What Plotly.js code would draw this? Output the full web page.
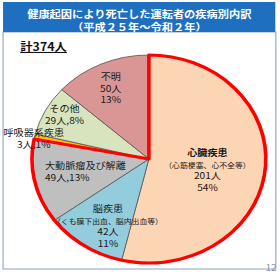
<!DOCTYPE html>
<html><head><meta charset="utf-8">
<script src="https://cdn.plot.ly/plotly-3.0.1.min.js"></script>
<style>
html,body{margin:0;padding:0;background:#fff;overflow:hidden;}
#wrap{width:280px;height:275px;overflow:hidden;position:relative;}
#plot{width:249px;height:275px;transform:scaleX(1.1245);transform-origin:0 0;}
</style></head><body><div id="wrap"><div id="plot"></div></div>
<script>
// ---- data ----
const categories = ['心臓疾患','脳疾患','大動脈瘤及び解離','呼吸器系疾患','その他','不明'];
const counts = [201, 42, 49, 3, 29, 50];
const percents = [54, 11, 13, 1, 8, 13];
const subNotes = ['（心筋梗塞、心不全等）','（くも膜下出血、脳内出血等）','','','',''];
const colors = ['#FCD5B5','#93CDDD','#BFBFBF','#FFC000','#D7E4BD','#D99694'];
const highlighted = [0, 1, 2];   // circulatory-disease group outlined in red
const totalLabel = '計374人';
const titleLines = ['健康起因により死亡した運転者の疾病別内訳','（平成２５年～令和２年）'];
const pageNo = '12';

// ---- layout helpers (unscaled px) ----
const W = 249, H = 275;
const px = x => x / W;
const py = y => 1 - y / H;
const FONT = 'Noto Sans CJK JP, Noto Sans, sans-serif';

const cx = 132.4, cy = 159, r = 104;
const domain = {x: [px(cx - r), px(cx + r)], y: [py(cy + r), py(cy - r)]};

const hiSum = highlighted.reduce((s, i) => s + counts[i], 0);
const restSum = counts.reduce((s, v) => s + v, 0) - hiSum;

const traces = [
  {
    type: 'pie', values: counts, labels: categories, sort: false,
    direction: 'clockwise', rotation: 0, textinfo: 'none', hoverinfo: 'skip',
    marker: {colors: colors, line: {color: '#5a5a5a', width: 0.8}},
    domain: domain, showlegend: false
  },
  {
    type: 'pie', values: [hiSum, restSum], labels: ['循環器系', '他'], sort: false,
    direction: 'clockwise', rotation: 0, textinfo: 'none', hoverinfo: 'skip',
    marker: {colors: ['rgba(0,0,0,0)', 'rgba(0,0,0,0)'],
             line: {color: ['#FF0000', 'rgba(0,0,0,0)'], width: [3.2, 0]}},
    domain: domain, showlegend: false
  }
];

const ann = [];
function A(text, x, y, size, opts) {
  ann.push(Object.assign({text: text, x: px(x), y: py(y), xref: 'paper', yref: 'paper',
    showarrow: false, xanchor: 'center', yanchor: 'middle', align: 'center',
    font: {family: FONT, size: size, color: '#1a1a1a'}}, opts || {}));
}
const small = s => '<span style="font-size:7px">' + s + '</span>';
// title
A('<b>' + titleLines[0] + '<br>' + titleLines[1] + '</b>', 123.5, 20, 10,
  {font: {family: FONT, size: 10, color: '#ffffff'}});
A('<b><u>' + totalLabel + '</u></b>', 16, 46, 11, {xanchor: 'left', font: {family: FONT, size: 11, color: '#111'}});

// slice labels
const fs = 9;
// 心臓疾患
A('<b>' + categories[0] + '</b><br>' + small(subNotes[0]) + '<br>' + counts[0] + '人<br>' + percents[0] + '%', 184, 170, fs);
// 脳疾患
A(categories[1] + '<br>' + small(subNotes[1]) + '<br>' + counts[1] + '人<br>' + percents[1] + '%', 95.5, 225.5, fs);
// 大動脈瘤及び解離
A(categories[2] + '<br>' + counts[2] + '人,' + percents[2] + '%', 37.5, 171.5, fs, {xanchor: 'left', align: 'left'});
// 呼吸器系疾患
A(categories[3] + '<br>' + counts[3] + '人,' + percents[3] + '%', 29.5, 138.5, fs);
// その他
A(categories[4] + '<br>' + counts[4] + '人,' + percents[4] + '%', 57.5, 114, fs);
// 不明
A(categories[5] + '<br>' + counts[5] + '人<br>' + percents[5] + '%', 98.7, 87.7, fs);
// page number
A(pageNo, 241, 267.5, 9, {font: {family: FONT, size: 9, color: '#8a98ae'}});

const shapes = [
  {type: 'rect', xref: 'paper', yref: 'paper', x0: px(2.7), x1: px(245.3), y0: py(32), y1: py(269),
   line: {color: '#8FA2C4', width: 1}, fillcolor: 'rgba(0,0,0,0)', layer: 'below'},
  {type: 'rect', xref: 'paper', yref: 'paper', x0: px(2.7), x1: px(244.8), y0: py(2), y1: py(32),
   line: {width: 0}, fillcolor: '#1F6FC1', layer: 'below'}
];

const layout = {
  width: W, height: H, margin: {l: 0, r: 0, t: 0, b: 0},
  paper_bgcolor: '#ffffff', plot_bgcolor: '#ffffff',
  showlegend: false, annotations: ann, shapes: shapes,
  font: {family: FONT}
};
Plotly.newPlot('plot', traces, layout, {displayModeBar: false, staticPlot: true});
</script></body></html>
